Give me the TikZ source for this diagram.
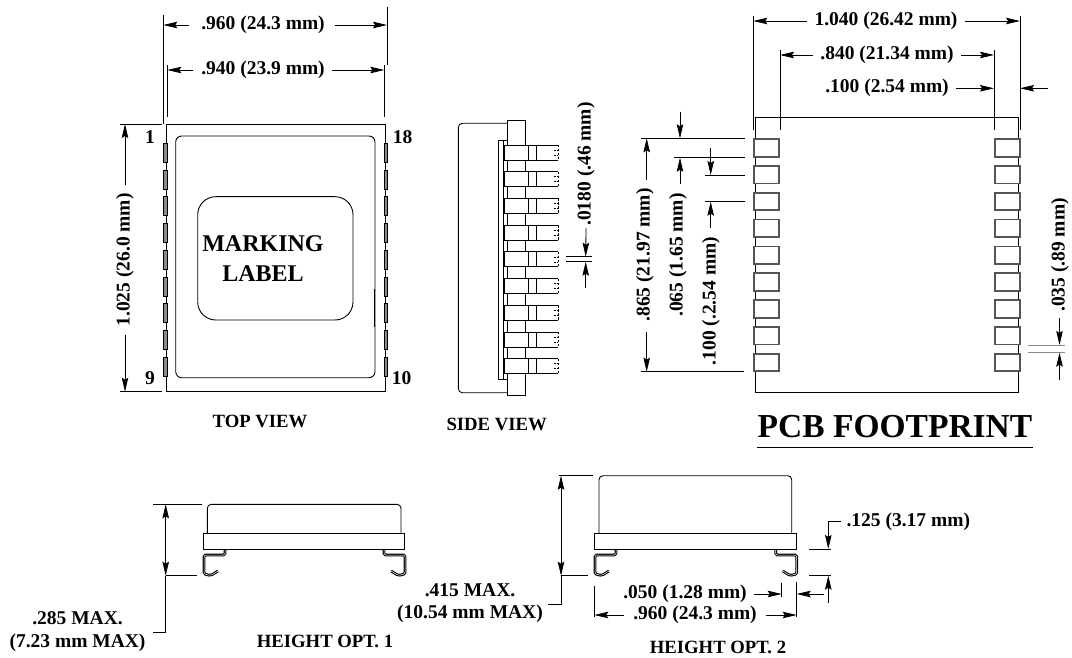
\documentclass[tikz,border=0pt]{standalone}
\usepackage{fontspec}
\setmainfont{Liberation Serif}
\usetikzlibrary{arrows.meta}
\definecolor{padgray}{HTML}{8A8A8A}
\definecolor{footgray}{HTML}{555555}

\begin{document}
\begin{tikzpicture}[x=1pt,y=-1pt]
\tikzstyle{dimtext} = [inner sep=0pt, font=\fontsize{19.5}{22.5}\selectfont\bfseries]
\tikzstyle{sidetext} = [dimtext, rotate=90]
\tikzstyle{viewtext} = [inner sep=0pt, font=\fontsize{18.7}{21}\selectfont\bfseries]
\tikzstyle{marktext} = [inner sep=0pt, font=\fontsize{24}{27}\selectfont\bfseries]
\tikzstyle{extline} = [line width=0.8pt]
\tikzstyle{dimarrow} = [line width=0.8pt, -{Stealth[length=14pt,width=6.5pt,inset=2pt]}]
\tikzstyle{dimboth} = [line width=0.8pt, {Stealth[length=14pt,width=6.5pt,inset=2pt]}-{Stealth[length=14pt,width=6.5pt,inset=2pt]}]
\tikzstyle{body} = [line width=0.9pt]
\tikzstyle{leadpad} = [draw=black, fill=padgray, line width=0.6pt]
\tikzstyle{footpad} = [draw=footgray, line width=1.8pt]
\tikzstyle{sidepad} = [draw=black, fill=white, line width=0.8pt]
\tikzstyle{leadwire} = [line width=1.1pt, double=white, double distance=0.5pt, rounded corners=1.5pt]

\useasboundingbox (0,0) rectangle (1072,658);

\draw[body] (166.7,124) rectangle (385,391.7);
\draw[body, rounded corners=6pt] (175.7,136) rectangle (375,377.7);
\draw[body, rounded corners=18pt] (197.7,196.7) rectangle (353,320);
\draw[line width=1.2pt] (374.5,289) -- (374.5,327);
\foreach \i in {0,...,8} {
  \draw[leadpad] (163.5,{143.3+26.7*\i}) rectangle (167,{162.3+26.7*\i});
  \draw[leadpad] (384.5,{143.3+26.7*\i}) rectangle (387.5,{162.3+26.7*\i});
}
\node (marking) [marktext] at (263,244) {MARKING};
\node (label) [marktext] at (263,274) {LABEL};
\node (pinone) [dimtext] at (150,137) {1};
\node (pineighteen) [dimtext] at (402.7,137) {18};
\node (pinnine) [dimtext] at (150,378) {9};
\node (pinten) [dimtext] at (401.7,378) {10};
\node (topview) [viewtext] at (260,421) {TOP VIEW};

\node (widthouter) [dimtext] at (263,25) {.960 (24.3 mm)};
\node (widthinner) [dimtext] at (263,70) {.940 (23.9 mm)};
\node (lengthtop) [sidetext] at (125,260) {1.025 (26.0 mm)};
\draw[extline] (163.3,15) -- (163.3,124);
\draw[extline] (387,7) -- (387,65);
\draw[extline] (167.3,65) -- (167.3,117);
\draw[extline] (384.3,65) -- (384.3,117);
\draw[dimarrow] (widthouter.west) ++(-12,0) -- (163.3,25);
\draw[dimarrow] (widthouter.east) ++(10,0) -- (387,25);
\draw[dimarrow] (widthinner.west) ++(-8,0) -- (167.3,70);
\draw[dimarrow] (widthinner.east) ++(7,0) -- (384.3,70);
\draw[extline] (120,124) -- (161.7,124);
\draw[extline] (120,391.7) -- (161.7,391.7);
\draw[dimarrow] (lengthtop.east) ++(0,-8) -- (125,124);
\draw[dimarrow] (lengthtop.west) ++(0,8) -- (125,391.7);

\draw[body, rounded corners=4pt] (507.7,123.3) -- (458.3,123.3) -- (458.3,392.7) -- (507.7,392.7);
\draw[body] (507.7,120.7) rectangle (525.3,395.3);
\draw[body] (507.7,140) -- (498.7,140) -- (498.7,379) -- (507.7,379);
\draw[body] (503.3,140) -- (503.3,379);
\foreach \i in {0,...,8} {
  \draw[sidepad] (504.7,{145+26.7*\i}) rectangle (528.3,{160+26.7*\i});
  \draw[sidepad] (528.3,{145+26.7*\i}) rectangle (536.7,{160+26.7*\i});
  \draw[extline] (536.7,{145+26.7*\i}) -- (558.3,{145+26.7*\i});
  \draw[extline] (536.7,{160+26.7*\i}) -- (558.3,{160+26.7*\i});
  \draw[extline, dash pattern=on 2.5pt off 1.5pt] (558.3,{145+26.7*\i}) -- (558.3,{160+26.7*\i});
  \draw[line width=0.6pt, dash pattern=on 2pt off 1pt] (553.5,{150+26.7*\i}) -- (558.3,{150+26.7*\i});
  \draw[line width=0.6pt, dash pattern=on 2pt off 1pt] (553.5,{155+26.7*\i}) -- (558.3,{155+26.7*\i});
}
\node (sideview) [viewtext] at (496.7,424) {SIDE VIEW};
\node (leadwidth) [sidetext] at (586,164) {.0180 (.46 mm)};
\draw[extline] (566,256.7) -- (591.7,256.7);
\draw[extline] (566,261.7) -- (591.7,261.7);
\draw[dimarrow] (leadwidth.west) ++(0,2) -- (585.7,256.7);
\draw[dimarrow] (585.7,288) -- (585.7,261.7);

\draw[body] (755,392.3) rectangle (1018.3,117.3);
\foreach \i in {0,...,8} {
  \draw[footpad, fill=white] (754.2,{139.2+26.8*\i}) rectangle (779.2,{156.8+26.8*\i});
  \draw[footpad, fill=white] (994.8,{139.2+26.8*\i}) rectangle (1020.2,{156.8+26.8*\i});
}
\node (footwidth) [dimtext] at (886,21) {1.040 (26.42 mm)};
\node (padspan) [dimtext] at (887,55) {.840 (21.34 mm)};
\node (padlength) [dimtext] at (887,88.3) {.100 (2.54 mm)};
\node (footlength) [sidetext] at (645,255) {.865 (21.97 mm)};
\node (padwidth) [sidetext] at (678,255) {.065 (1.65 mm)};
\node (padpitch) [sidetext] at (711,301) {.100 (.2.54 mm)};
\node (padgap) [sidetext] at (1060,255) {.035 (.89 mm)};
\node (pcbtitle) [inner sep=0pt, font=\fontsize{33.5}{37}\selectfont\bfseries] at (895,427) {PCB FOOTPRINT};
\draw[line width=0.9pt] (757.3,447.3) -- (1033.3,447.3);
\draw[extline] (753.3,15.7) -- (753.3,130);
\draw[extline] (1020,15.7) -- (1020,130);
\draw[extline] (780,50) -- (780,130);
\draw[extline] (994,50) -- (994,130);
\draw[dimarrow] (footwidth.west) ++(-7,0) -- (753.3,21);
\draw[dimarrow] (footwidth.east) ++(7,0) -- (1020,21);
\draw[dimarrow] (padspan.west) ++(-7,0) -- (780,55);
\draw[dimarrow] (padspan.east) ++(7,0) -- (994,55);
\draw[dimarrow] (padlength.east) ++(7,0) -- (994,88.3);
\draw[dimarrow] (1047.7,88.3) -- (1020,88.3);
\draw[extline] (641,138.3) -- (745,138.3);
\draw[extline] (674.3,157.7) -- (745,157.7);
\draw[extline] (705,175) -- (745,175);
\draw[extline] (705,201.7) -- (745,201.7);
\draw[extline] (641,371.7) -- (744,371.7);
\draw[dimarrow] (646.7,180) -- (646.7,138.3);
\draw[dimarrow] (646.7,331.7) -- (646.7,371.7);
\draw[dimarrow] (680,111.7) -- (680,138.3);
\draw[dimarrow] (680,184.3) -- (680,157.7);
\draw[dimarrow] (710.7,148) -- (710.7,175);
\draw[dimarrow] (710.7,228) -- (710.7,201.7);
\draw[extline, draw=padgray] (1028,345) -- (1065,345);
\draw[extline, draw=padgray] (1028,352.7) -- (1065,352.7);
\draw[dimarrow] (1059.5,318) -- (1059.5,345);
\draw[dimarrow] (1059.5,380) -- (1059.5,352.7);

\foreach \edge/\dir in {204/1,405/-1,595/1,796.7/-1} {
  \draw[leadwire] ({\edge+\dir*21},549.3) -- ({\edge+\dir*21},555) -- (\edge,555) -- (\edge,574) -- ({\edge+\dir*6.7},575.5) -- ({\edge+\dir*14},571);
}
\draw[body, rounded corners=4pt] (207.3,533.3) -- (207.3,504.3) -- (401,504.3) -- (401,533.3);
\draw[body, fill=white] (203.3,533.3) rectangle (404.7,549.3);
\draw[line width=1.4pt] (203.6,541) -- (203.6,549.3);
\draw[extline] (153.3,504.3) -- (202.3,504.3);
\draw[extline] (165.7,575.7) -- (197.3,575.7);
\draw[dimboth] (165.7,504.3) -- (165.7,575.7);
\node (heightone) [dimtext, align=center] at (77.5,631.5) {.285 MAX.\\(7.23 mm MAX)};
\draw[extline] (165.7,575.7) -- (165.7,632.7) -- (152.7,632.7);
\node (optone) [viewtext] at (325,641.7) {HEIGHT OPT. 1};

\draw[body, rounded corners=4pt] (599,533.3) -- (599,475.7) -- (791.7,475.7) -- (791.7,533.3);
\draw[body, fill=white] (594.3,533.3) rectangle (796,549.3);
\draw[line width=1.4pt] (594.6,541) -- (594.6,549.3);
\draw[extline] (558.7,475.7) -- (593.3,475.7);
\draw[extline] (561,575.7) -- (588.3,575.7);
\draw[dimboth] (561,475.7) -- (561,575.7);
\node (heighttwo) [dimtext, align=center] at (470,603) {.415 MAX.\\(10.54 mm MAX)};
\draw[extline] (561,575.7) -- (561,604) -- (548.3,604);
\node (opttwo) [viewtext] at (718,647.7) {HEIGHT OPT. 2};

\node (leadgap) [dimtext] at (685,594) {.050 (1.28 mm)};
\node (bodywidth) [dimtext] at (695,615) {.960 (24.3 mm)};
\node (standoff) [dimtext] at (908.3,521.7) {.125 (3.17 mm)};
\draw[extline] (781.7,583) -- (781.7,596.7);
\draw[extline] (796.7,581.7) -- (796.7,617.3);
\draw[extline] (594.3,585.7) -- (594.3,617.3);
\draw[dimarrow] (leadgap.east) ++(7,0) -- (781.7,594);
\draw[dimarrow] (824,594) -- (796.7,594);
\draw[dimarrow] (bodywidth.west) ++(-9,0) -- (594.3,615);
\draw[dimarrow] (bodywidth.east) ++(9,0) -- (796.7,615);
\draw[dimarrow] (standoff.west) ++(-5,0) -- (828.3,521.7) -- (828.3,549);
\draw[extline] (809,549) -- (830.7,549);
\draw[extline] (809,575.7) -- (830.7,575.7);
\draw[dimarrow] (828.3,602.7) -- (828.3,575.7);

\end{tikzpicture}
\end{document}
